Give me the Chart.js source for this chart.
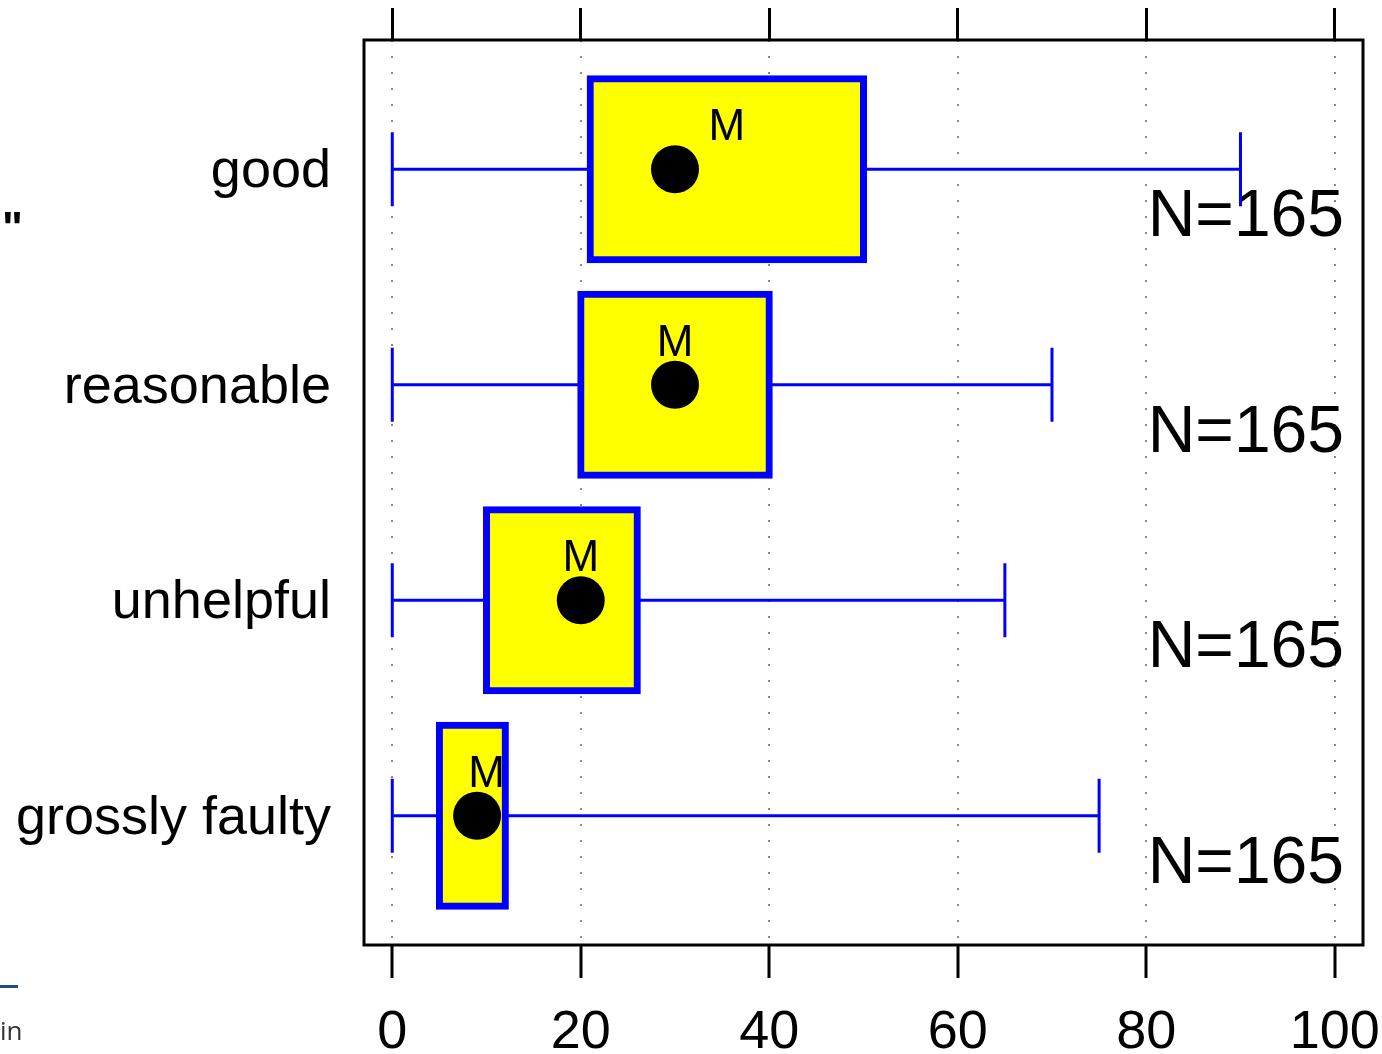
<!DOCTYPE html>
<html>
<head>
<meta charset="utf-8">
<script src="https://cdn.jsdelivr.net/npm/chart.js@4.4.1/dist/chart.umd.min.js"></script>
<style>
  html, body { margin: 0; padding: 0; background: #ffffff; }
  #wrap { position: relative; width: 1382px; height: 1054px; overflow: hidden; }
  #c { position: absolute; left: 0; top: 0; }
  .frag { position: absolute; font-family: "Liberation Sans", Arial, sans-serif; white-space: nowrap; }
</style>
</head>
<body>
<div id="wrap">
  <canvas id="c" width="1382" height="1054"></canvas>
  <div class="frag" style="left:2px; top:203px; font-size:44px; font-weight:bold; color:#000;">"</div>
  <div style="position:absolute; left:0; top:985px; width:18px; height:3px; background:#1f4e80;"></div>
  <div class="frag" style="left:0px; top:1012px; font-size:26px; color:#333; font-family:'Open Sans', sans-serif;">in</div>
</div>
<script>
// ---- data ----
const categories   = ['good', 'reasonable', 'unhelpful', 'grossly faulty'];
const whiskerLow   = [0, 0, 0, 0];
const q1           = [21, 20, 10, 5];
const q3           = [50, 40, 26, 12];
const whiskerHigh  = [90, 70, 65, 75];
const means        = [30, 30, 20, 9];
const medians      = [35.5, 30, 20, 10];
const counts       = [165, 165, 165, 165];
const xTicks       = [0, 20, 40, 60, 80, 100];

const FONT = '"Liberation Sans", Arial, Helvetica, sans-serif';

const extras = {
  id: 'boxExtras',
  beforeDatasetsDraw(chart) {
    const { ctx, chartArea, scales: { x, y } } = chart;
    ctx.save();
    // N labels
    ctx.fillStyle = '#000';
    ctx.font = '66px ' + FONT;
    ctx.textAlign = 'right';
    ctx.textBaseline = 'alphabetic';
    categories.forEach((c, i) => {
      const yc = y.getPixelForValue(i);
      ctx.fillText('N=' + counts[i], chartArea.right - 19, yc + 67);
    });
    // whiskers
    ctx.strokeStyle = '#0000ff';
    ctx.lineWidth = 3;
    ctx.lineCap = 'butt';
    categories.forEach((c, i) => {
      const yc = y.getPixelForValue(i);
      const half = Math.abs(y.getPixelForValue(i + 0.172) - yc);
      const xl = x.getPixelForValue(whiskerLow[i]);
      const xq1 = x.getPixelForValue(q1[i]);
      const xq3 = x.getPixelForValue(q3[i]);
      const xh = x.getPixelForValue(whiskerHigh[i]);
      ctx.beginPath();
      ctx.moveTo(xl, yc); ctx.lineTo(xq1, yc);
      ctx.moveTo(xq3, yc); ctx.lineTo(xh, yc);
      ctx.moveTo(xl, yc - half); ctx.lineTo(xl, yc + half);
      ctx.moveTo(xh, yc - half); ctx.lineTo(xh, yc + half);
      ctx.stroke();
    });
    ctx.restore();
  },
  afterDatasetsDraw(chart) {
    const { ctx, scales: { x, y } } = chart;
    ctx.save();
    ctx.fillStyle = '#000';
    ctx.font = '44px ' + FONT;
    ctx.textAlign = 'center';
    ctx.textBaseline = 'alphabetic';
    categories.forEach((c, i) => {
      const yc = y.getPixelForValue(i);
      ctx.fillText('M', x.getPixelForValue(medians[i]), yc - 29);
    });
    ctx.restore();
  },
  afterDraw(chart) {
    const { ctx, chartArea } = chart;
    ctx.save();
    ctx.strokeStyle = '#000';
    ctx.lineWidth = 3;
    ctx.strokeRect(chartArea.left, chartArea.top, chartArea.right - chartArea.left, chartArea.bottom - chartArea.top);
    ctx.restore();
  }
};

const setXTicks = (axis) => { axis.ticks = xTicks.map(v => ({ value: v })); };
const noPad = (a) => { a.paddingTop = 0; a.paddingBottom = 0; a.paddingLeft = 0; a.paddingRight = 0; };

new Chart(document.getElementById('c'), {
  type: 'bar',
  data: {
    datasets: [
      {
        type: 'scatter',
        data: means.map((m, i) => ({ x: m, y: i })),
        pointRadius: 24,
        pointHoverRadius: 24,
        backgroundColor: '#000000',
        borderWidth: 0,
        order: 1
      },
      {
        type: 'bar',
        data: categories.map((c, i) => ({ y: i, x: [q1[i], q3[i]] })),
        backgroundColor: '#ffff00',
        borderColor: '#0000ff',
        borderWidth: 7,
        borderSkipped: false,
        inflateAmount: 3.5,
        barPercentage: 0.84,
        categoryPercentage: 1,
        order: 2
      }
    ]
  },
  options: {
    indexAxis: 'y',
    responsive: false,
    animation: false,
    events: [],
    layout: { autoPadding: false, padding: { left: 0, right: 19, top: 0, bottom: 0 } },
    plugins: { legend: { display: false }, tooltip: { enabled: false } },
    scales: {
      x: {
        type: 'linear', position: 'bottom', min: -3, max: 103,
        afterBuildTicks: setXTicks,
        afterFit: (a) => { a.height = 109; noPad(a); },
        grid: { color: '#8a8a8a', lineWidth: 2, tickColor: '#000', tickWidth: 3, tickLength: 33, drawTicks: true },
        border: { display: false, dash: [2, 14] },
        ticks: { color: '#000', font: { family: FONT, size: 54 }, padding: 23, maxRotation: 0, autoSkip: false }
      },
      x2: {
        type: 'linear', position: 'top', min: -3, max: 103,
        afterBuildTicks: setXTicks,
        afterFit: (a) => { a.height = 40; noPad(a); },
        grid: { drawOnChartArea: false, tickColor: '#000', tickWidth: 3, tickLength: 32 },
        border: { display: false },
        ticks: { display: false }
      },
      y: {
        type: 'linear', reverse: true, min: -0.6, max: 3.6, offset: false,
        afterBuildTicks: (a) => { a.ticks = categories.map((c, i) => ({ value: i })); },
        afterFit: (a) => { a.width = 364; noPad(a); },
        grid: { display: false, drawTicks: false },
        border: { display: false },
        ticks: { color: '#000', font: { family: FONT, size: 54 }, padding: 33, labelOffset: 3, autoSkip: false,
                 callback: (v) => categories[v] }
      }
    }
  },
  plugins: [extras]
});
</script>
</body>
</html>
